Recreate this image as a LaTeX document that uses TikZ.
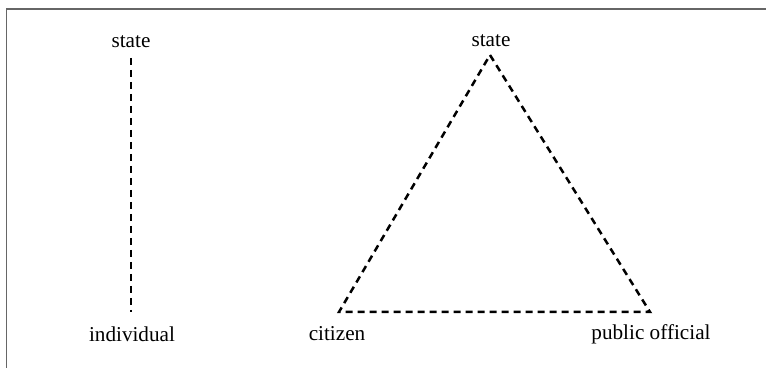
\documentclass[tikz,border=0pt]{standalone}
\usepackage{fontspec}
\setmainfont{Liberation Serif}
\begin{document}
\begin{tikzpicture}[x=0.5pt,y=-0.5pt,
  lbl/.style={font=\fontsize{10.6}{12}\selectfont, inner sep=0pt},
  dline/.style={line width=1.25pt, dash pattern=on 3.5pt off 2.5pt, line join=miter},
  frame/.style={line width=0.8pt, draw=black!60}]
\useasboundingbox (0,0) rectangle (766,368);
\coordinate (tl) at (6.5,9);
\coordinate (tr) at (766,9);
\coordinate (bl) at (6.5,368);
\draw[frame] (tr) -- (tl) -- (bl);
% left pair
\node[lbl] (s1) at (131,42) {state};
\node[lbl] (ind) at (132,334) {individual};
\coordinate (v1) at (131,58);
\coordinate (v2) at (131,312);
\draw[dline] (v1) -- (v2);
% triangle
\node[lbl] (s2) at (491,41) {state};
\node[lbl] (cit) at (337,334) {citizen};
\node[lbl] (po) at (651,334) {public official};
\coordinate (t) at (490,55);
\coordinate (c) at (339,312);
\coordinate (p) at (650,312);
\draw[dline] (t) -- (p) -- (c) -- cycle;
\end{tikzpicture}
\end{document}
